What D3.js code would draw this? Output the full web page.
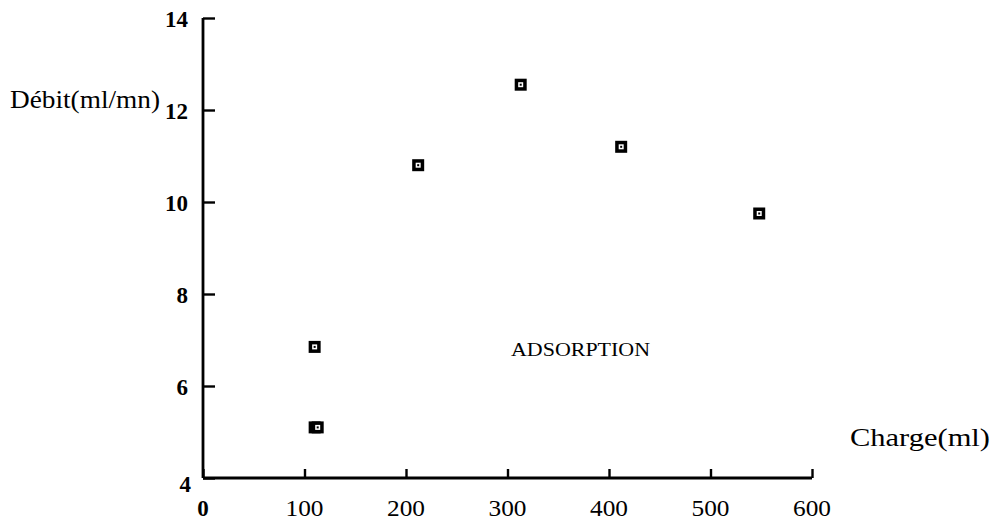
<!DOCTYPE html>
<html>
<head>
<meta charset="utf-8">
<script src="https://cdn.jsdelivr.net/npm/d3@7"></script>
<style>
  body { margin: 0; background: #fff; }
  svg text { font-family: "Liberation Serif", "DejaVu Serif", serif; fill: #000; }
</style>
</head>
<body>
<div id="chart"></div>
<script>
// Data
const charge = [110, 113, 110, 212, 313, 412, 548];
const debit = [5.1, 5.1, 6.85, 10.8, 12.55, 11.2, 9.75];
const xTicks = [0, 100, 200, 300, 400, 500, 600];
const yTicks = [4, 6, 8, 10, 12, 14];

function drawChart() {
    const width = 997, height = 524;
    const svg = d3.select("#chart").append("svg")
        .attr("width", width)
        .attr("height", height);

    const x = d3.scaleLinear().domain([0, 600]).range([203, 812]);
    const y = d3.scaleLinear().domain([4, 14]).range([478, 18]);

    // x axis, ticks pointing inward
    const xAxis = svg.append("g")
        .attr("transform", `translate(0,${y(4)})`)
        .call(d3.axisTop(x).tickValues(xTicks).tickSize(9).tickFormat(""));
    xAxis.select(".domain").attr("d", `M${x(0)},0H${x(600)}`);

    // y axis, ticks pointing inward
    const yAxis = svg.append("g")
        .attr("transform", `translate(${x(0)},0)`)
        .call(d3.axisRight(y).tickValues(yTicks).tickSize(12).tickFormat(""));
    yAxis.select(".domain").attr("d", `M0,${y(4)}V${y(14)}`);

    svg.selectAll(".domain, .tick line")
        .attr("stroke", "#000")
        .attr("stroke-width", 2.8);
    svg.selectAll(".tick line").attr("stroke-width", 2.4);

    // tick labels
    svg.selectAll(".xlab")
        .data(xTicks)
        .enter().append("text")
        .attr("x", d => x(d))
        .attr("y", 516)
        .attr("text-anchor", "middle")
        .attr("font-size", 23)
        .attr("font-weight", d => d === 0 ? "bold" : "normal")
        .attr("textLength", d => d === 0 ? null : 38)
        .attr("lengthAdjust", "spacingAndGlyphs")
        .text(d => d);

    svg.selectAll(".ylab")
        .data(yTicks)
        .enter().append("text")
        .attr("x", d => d === 4 ? 191 : 188)
        .attr("y", d => d === 4 ? y(d) + 14 : y(d) + 9)
        .attr("text-anchor", "end")
        .attr("font-size", 23)
        .attr("font-weight", "bold")
        .text(d => d);

    // axis titles
    svg.append("text")
        .attr("x", 10).attr("y", 108)
        .attr("font-size", 26)
        .attr("textLength", 150)
        .attr("lengthAdjust", "spacingAndGlyphs")
        .text("Débit(ml/mn)");

    svg.append("text")
        .attr("x", 850).attr("y", 446)
        .attr("font-size", 26)
        .attr("textLength", 140)
        .attr("lengthAdjust", "spacingAndGlyphs")
        .text("Charge(ml)");

    svg.append("text")
        .attr("x", 511).attr("y", 356)
        .attr("font-size", 19)
        .attr("textLength", 139)
        .attr("lengthAdjust", "spacingAndGlyphs")
        .text("ADSORPTION");

    // markers
    const pts = svg.selectAll(".pt")
        .data(charge.map((c, i) => ({ c, d: debit[i] })))
        .enter().append("g")
        .attr("transform", p => `translate(${x(p.c)},${y(p.d)})`);

    pts.append("rect")
        .attr("x", -6).attr("y", -6)
        .attr("width", 12).attr("height", 12)
        .attr("fill", "#000");
    pts.append("rect")
        .attr("x", -2.5).attr("y", -2.5)
        .attr("width", 5).attr("height", 5)
        .attr("fill", "#fff");
    pts.append("rect")
        .attr("x", -1).attr("y", -1)
        .attr("width", 2).attr("height", 2)
        .attr("fill", "#000");
}

document.addEventListener("DOMContentLoaded", drawChart);
</script>
</body>
</html>
